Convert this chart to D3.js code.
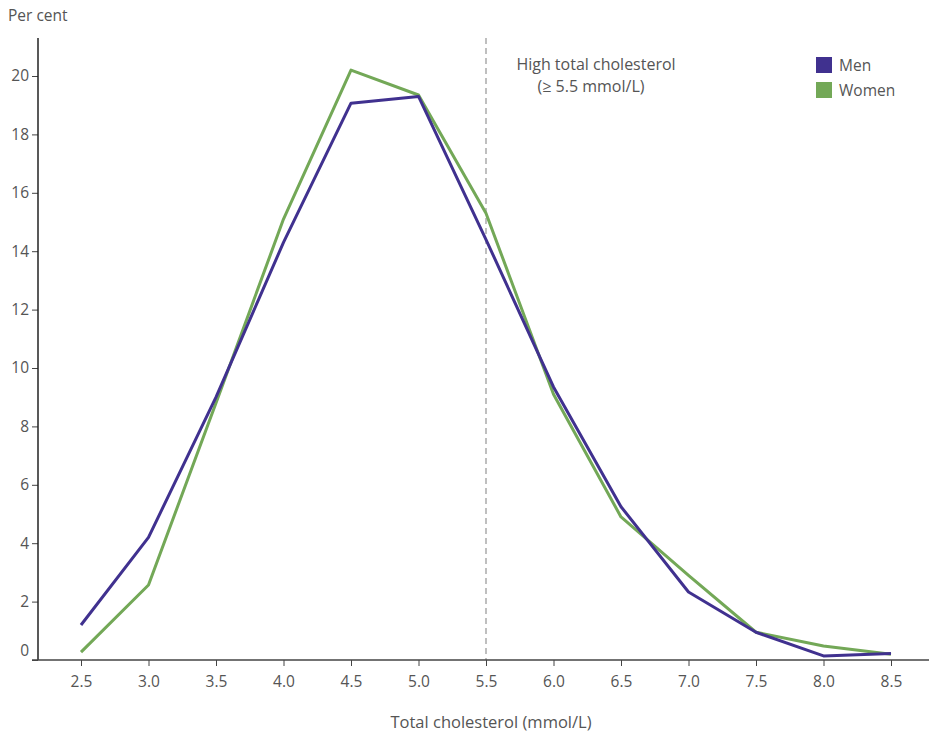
<!DOCTYPE html>
<html>
<head>
<meta charset="utf-8">
<script src="https://cdn.jsdelivr.net/npm/d3@7"></script>
<style>
  body { margin: 0; background: #fff; }
  svg { display: block; font-family: "Open Sans", "Noto Sans", sans-serif; }
</style>
</head>
<body>
<div id="chart"></div>
<script>
const xValues = [2.5, 3.0, 3.5, 4.0, 4.5, 5.0, 5.5, 6.0, 6.5, 7.0, 7.5, 8.0, 8.5];
const menValues = [1.2, 4.2, 9.0, 14.3, 19.07, 19.3, 14.4, 9.35, 5.25, 2.33, 0.95, 0.14, 0.22];
const womenValues = [0.27, 2.57, 8.8, 15.1, 20.2, 19.35, 15.3, 9.1, 4.9, 2.9, 0.95, 0.48, 0.2];
const yTicks = [0, 2, 4, 6, 8, 10, 12, 14, 16, 18, 20];
const seriesNames = ["Men", "Women"];
const seriesColors = ["#40318f", "#73a857"];
const thresholdValue = 5.5;
const annotationLines = ["High total cholesterol", "(\u2265 5.5 mmol/L)"];
const yTitle = "Per cent";
const xTitle = "Total cholesterol (mmol/L)";

const W = 929, H = 733;
const plotLeft = 38, plotTop = 38, plotBottom = 660, plotRight = 929;

const svg = d3.select("#chart").append("svg").attr("width", W).attr("height", H);

const x = d3.scaleLinear().domain([2.5, 8.5]).range([81, 891]);
const y = d3.scaleLinear().domain([0, 20]).range([660, 76]);

const textColor = "#555";
const fs = 15.5;

// Dashed threshold line
svg.append("line")
  .attr("x1", x(thresholdValue)).attr("x2", x(thresholdValue))
  .attr("y1", plotTop).attr("y2", plotBottom)
  .attr("stroke", "#aaa").attr("stroke-width", 1.5)
  .attr("stroke-dasharray", "6,4");

// Annotation
const ann = svg.append("text")
  .attr("text-anchor", "middle")
  .attr("fill", textColor)
  .attr("font-size", 16);
ann.append("tspan").attr("x", 596).attr("y", 70).text(annotationLines[0]);
ann.append("tspan").attr("x", 591).attr("y", 92).text(annotationLines[1]);

// Y axis
const yAxis = d3.axisLeft(y).tickValues(yTicks).tickSize(6).tickPadding(3).tickFormat(d3.format("d"));
const yG = svg.append("g").attr("transform", `translate(${plotLeft},0)`).call(yAxis);
yG.select(".domain").remove();
yG.append("line").attr("x1", 0).attr("x2", 0).attr("y1", plotTop).attr("y2", plotBottom)
  .attr("stroke", "#222").attr("stroke-width", 1.5);
yG.selectAll(".tick line").attr("stroke", "#444");
yG.selectAll(".tick text").attr("fill", textColor).attr("font-size", fs)
  .attr("font-family", "'Open Sans', 'Noto Sans', sans-serif");
yG.selectAll(".tick").filter(d => d === 0).select("text").attr("dy", "-0.3em");

// X axis
const xAxis = d3.axisBottom(x).tickValues(xValues).tickSize(6).tickPadding(10).tickFormat(d3.format(".1f"));
const xG = svg.append("g").attr("transform", `translate(0,${plotBottom})`).call(xAxis);
xG.select(".domain").remove();
xG.append("line").attr("x1", plotLeft - 6).attr("x2", plotRight).attr("y1", 0).attr("y2", 0)
  .attr("stroke", "#444").attr("stroke-width", 1.5);
xG.selectAll(".tick line").attr("stroke", "#444");
xG.selectAll(".tick text").attr("fill", textColor).attr("font-size", fs)
  .attr("font-family", "'Open Sans', 'Noto Sans', sans-serif");

// Titles
svg.append("text").attr("x", 8).attr("y", 21).attr("fill", textColor).attr("font-size", fs).text(yTitle);
svg.append("text").attr("x", 491).attr("y", 728).attr("text-anchor", "middle")
  .attr("fill", textColor).attr("font-size", 16.5).text(xTitle);

// Lines
const line = d3.line().x((d, i) => x(xValues[i])).y(d => y(d));
[womenValues, menValues].forEach((vals, k) => {
  const idx = k === 0 ? 1 : 0;
  svg.append("path").datum(vals)
    .attr("d", line)
    .attr("fill", "none")
    .attr("stroke", seriesColors[idx])
    .attr("stroke-width", 3)
    .attr("stroke-linejoin", "round");
});

// Legend
const leg = svg.append("g").attr("transform", "translate(816,57)");
seriesNames.forEach((name, i) => {
  const g = leg.append("g").attr("transform", `translate(0,${i * 25})`);
  g.append("rect").attr("width", 16).attr("height", 16).attr("fill", seriesColors[i]);
  g.append("text").attr("x", 23).attr("y", 14).attr("fill", textColor).attr("font-size", fs).text(name);
});
</script>
</body>
</html>
